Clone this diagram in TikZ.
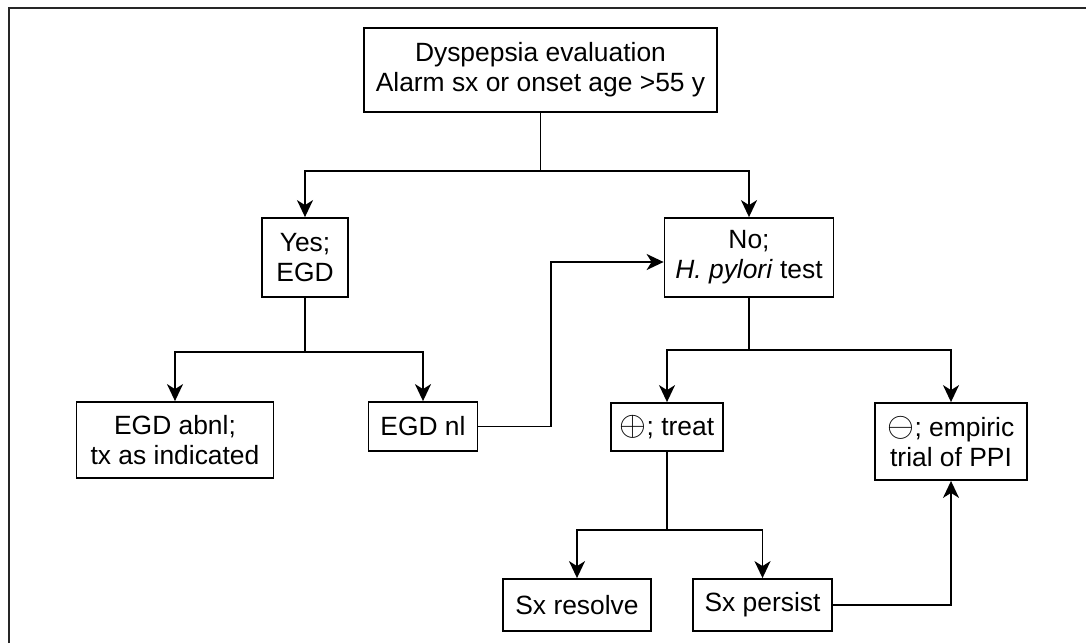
\documentclass[tikz,border=0pt]{standalone}
\usepackage{fontspec}
\setmainfont{Liberation Sans}
\usetikzlibrary{calc,positioning,arrows.meta}
\newcommand{\bigsign}[1]{{\fontsize{17}{15}\selectfont$#1$}}

\begin{document}
\begin{tikzpicture}[x=0.5pt,y=-0.5pt,line width=0.9pt,>={Stealth[length=8.5pt,width=8pt,inset=2.5pt]}]
\tikzstyle{box}=[draw, rectangle, align=center, inner sep=0pt, font=\fontsize{13.2}{15}\selectfont]%, fill=white]
\useasboundingbox (0,0) rectangle (1086,643);
% page frame (only left and top visible)
\draw[line width=1pt, black!85] (9,643) -- (9,8) -- (1086,8);

\node[box, minimum width=176.5pt, minimum height=42pt] (top) at (540.5,70) {Dyspepsia evaluation\\Alarm sx or onset age >55 y};
\node[box, minimum width=43pt, minimum height=39.5pt] (yes) at (305,257.5) {Yes;\\EGD};
\node[box, minimum width=84.5pt, minimum height=39.5pt] (no) at (749,257.5) {No;\\\textit{H. pylori} test};
\node[box, minimum width=98.5pt, minimum height=38pt] (abnl) at (175,440) {EGD abnl;\\tx as indicated};
\node[box, minimum width=54.5pt, minimum height=24.5pt] (nl) at (423,426.5) {EGD nl};
\node[box, minimum width=56pt, minimum height=24pt] (treat) at (667,427) {\bigsign{\oplus}; treat};
\node[box, minimum width=76pt, minimum height=38.5pt] (ppi) at (951,441.5) {\bigsign{\ominus}; empiric\\trial of PPI};
\node[box, minimum width=74pt, minimum height=26pt] (resolve) at (577,605) {Sx resolve};
\node[box, minimum width=69.5pt, minimum height=26pt] (persist) at (762.5,605) {Sx persist};

\coordinate (j1) at (540.5,171);
\coordinate (j2) at (305,352);
\coordinate (j3) at (749,350);
\coordinate (j4) at (667,530);
\coordinate (k1) at (551,262);
\coordinate (k2) at (951,605);

\draw (top) -- (j1);
\foreach \t in {yes,no}{\draw[->] (j1) -| (\t);}
\draw (yes) -- (j2);
\foreach \t in {abnl,nl}{\draw[->] (j2) -| (\t);}
\draw (no) -- (j3);
\foreach \t in {treat,ppi}{\draw[->] (j3) -| (\t);}
\draw (treat) -- (j4);
\foreach \t in {resolve,persist}{\draw[->] (j4) -| (\t);}
\draw[->] (nl.east) -| (k1) -- (k1 -| no.west);
\draw[->] (persist.east) -- (k2) -- (ppi.south);
\end{tikzpicture}
\end{document}
